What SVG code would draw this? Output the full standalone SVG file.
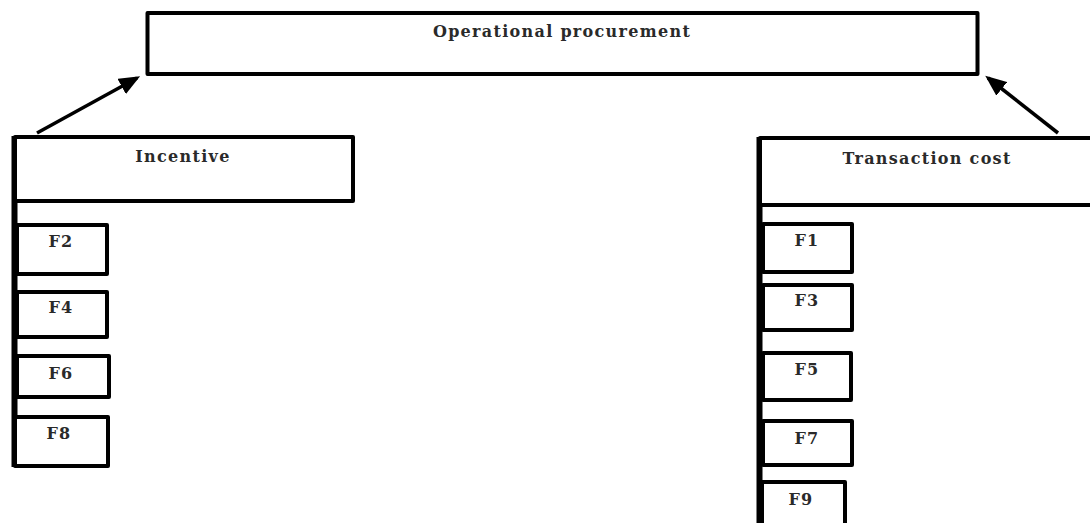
<svg xmlns="http://www.w3.org/2000/svg" width="1090" height="523" viewBox="0 0 1090 523">
<style>
.box{fill:#fff;stroke:#000;stroke-width:4;stroke-linejoin:round}
.t{font-family:"DejaVu Serif","Liberation Serif",serif;font-size:16px;font-weight:bold;letter-spacing:1.3px;fill:#2a2a2a;text-anchor:middle}
.bar{stroke:#000;stroke-width:6;fill:none}
.arr{stroke:#000;stroke-width:3.5;fill:none;marker-end:url(#ah)}
</style>
<defs>
<marker id="ah" markerWidth="6" markerHeight="5" refX="5" refY="2.5" orient="auto" markerUnits="strokeWidth">
<path d="M0,0 L6,2.5 L0,5 Z" fill="#000"/>
</marker>
</defs>
<rect width="1090" height="523" fill="#fff"/>
<g id="connectors">
<line class="arr" x1="37" y1="133" x2="137" y2="78"/>
<line class="arr" x1="1058" y1="133" x2="988" y2="78"/>
<line class="bar" x1="14.5" y1="136" x2="14.5" y2="467"/>
<line class="bar" x1="759.5" y1="137" x2="759.5" y2="523"/>
</g>
<g id="operational">
<rect class="box" x="147.5" y="13" width="830" height="61"/>
<text class="t" x="562" y="37">Operational procurement</text>
</g>
<g id="incentive">
<rect class="box" x="15" y="137" width="338" height="64"/>
<text class="t" x="183" y="162">Incentive</text>
</g>
<g id="transaction">
<rect class="box" x="760" y="138" width="340" height="67"/>
<text class="t" x="927" y="164">Transaction cost</text>
</g>
<g id="f2"><rect class="box" x="17" y="225" width="90" height="49"/><text class="t" x="61" y="247">F2</text></g>
<g id="f4"><rect class="box" x="17" y="292" width="90" height="45"/><text class="t" x="61" y="313">F4</text></g>
<g id="f6"><rect class="box" x="17" y="356" width="92" height="41"/><text class="t" x="61" y="379">F6</text></g>
<g id="f8"><rect class="box" x="15" y="417" width="93" height="49"/><text class="t" x="59" y="439">F8</text></g>
<g id="f1"><rect class="box" x="763" y="224" width="89" height="48"/><text class="t" x="807" y="246">F1</text></g>
<g id="f3"><rect class="box" x="763" y="285" width="89" height="45"/><text class="t" x="807" y="306">F3</text></g>
<g id="f5"><rect class="box" x="763" y="353" width="88" height="47"/><text class="t" x="807" y="375">F5</text></g>
<g id="f7"><rect class="box" x="763" y="421" width="89" height="44"/><text class="t" x="807" y="444">F7</text></g>
<g id="f9"><rect class="box" x="762" y="482" width="83" height="50"/><text class="t" x="801" y="505">F9</text></g>
</svg>
